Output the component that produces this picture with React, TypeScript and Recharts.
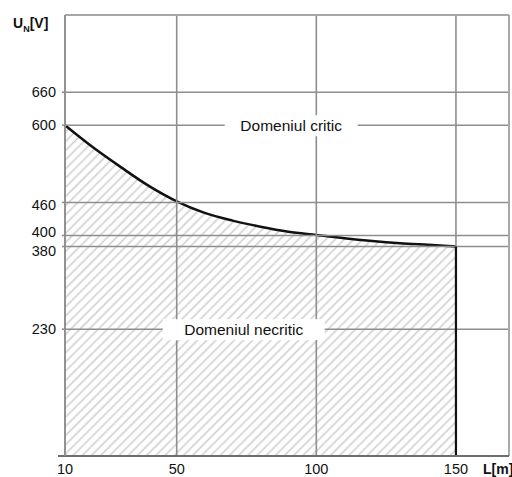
import React from 'react';
import {
  ComposedChart,
  Area,
  XAxis,
  YAxis,
  ReferenceLine,
  ReferenceDot,
} from 'recharts';

// Cable length L [m] and limit voltage U_N [V]
const lengths = [10, 20, 30, 40, 50, 60, 70, 80, 90, 100, 110, 120, 130, 140, 150];
const voltages = [600, 560, 524, 490, 462, 441, 427, 416, 407, 401, 395, 390, 386, 383, 380];
const xTicks = [10, 50, 100, 150];
const yTicks = [230, 380, 400, 460, 600, 660];
const cutoffSegment = [
  { x: 150, y: 380 },
  { x: 150, y: 0 },
];
const zoneLabels = [
  { L: 91, U: 600, text: 'Domeniul critic', w: 133 },
  { L: 74, U: 230, text: 'Domeniul necritic', w: 162 },
];

const data = lengths.map((L, i) => ({ L, U: voltages[i] }));

const FONT = '"Liberation Sans", Arial, sans-serif';
const GRID = '#8e8e8e';

// small vertical nudges so that close tick labels do not collide
const tickNudge: Record<number, number> = { 400: -3.5, 380: 4, 460: 2 };

const YTick = (props: any) => {
  const { x, y, payload } = props;
  const v = payload.value as number;
  return (
    <text
      x={x}
      y={y + (tickNudge[v] || 0)}
      dy="0.355em"
      textAnchor="end"
      fontFamily={FONT}
      fontSize={14.5}
      fill="#111"
    >
      {v}
    </text>
  );
};

const YTitle = () => (
  <text x={13} y={28} fontFamily={FONT} fontWeight="bold" fontSize={14} fill="#111">
    <tspan>U</tspan>
    <tspan fontSize={9} dy={4}>N</tspan>
    <tspan fontSize={14} dy={-4}>[V]</tspan>
  </text>
);

const XTitle = () => (
  <text x={483} y={474} fontFamily={FONT} fontWeight="bold" fontSize={14} fill="#111">
    L[m]
  </text>
);

const makeBox = (text: string, w: number) => (props: any) => {
  const { cx, cy } = props;
  return (
    <g>
      <rect x={cx - w / 2} y={cy - 10} width={w} height={21} fill="#fff" />
      <text
        x={cx}
        y={cy + 5.5}
        textAnchor="middle"
        fontFamily={FONT}
        fontSize={15.5}
        fill="#111"
      >
        {text}
      </text>
    </g>
  );
};

export default function App() {
  return (
    <div style={{ position: 'absolute', left: 0, top: 0, background: '#fff' }}>
      <ComposedChart
        width={512}
        height={477}
        data={data}
        margin={{ top: 15, right: 3, bottom: 0, left: 0 }}
      >
        <defs>
          <pattern
            id="hatch"
            patternUnits="userSpaceOnUse"
            width={6.5}
            height={6.5}
            patternTransform="rotate(45)"
          >
            <line x1={3.25} y1={0} x2={3.25} y2={6.5} stroke="#cfcfcf" strokeWidth={1.6} />
          </pattern>
        </defs>
        <XAxis
          dataKey="L"
          type="number"
          domain={[10, 169]}
          ticks={xTicks}
          interval={0}
          height={21}
          axisLine={false}
          tickLine={false}
          tickSize={3}
          tickMargin={5}
          tick={{ fill: '#111', fontSize: 14.5, fontFamily: FONT }}
          label={{ content: XTitle }}
        />
        <YAxis
          type="number"
          domain={[0, 800]}
          ticks={yTicks}
          interval={0}
          width={65}
          axisLine={{ stroke: GRID, strokeWidth: 1.6 }}
          tickLine={{ stroke: GRID, strokeWidth: 1.6 }}
          tickSize={3}
          tickMargin={6}
          tick={<YTick />}
          label={{ content: YTitle }}
        />
        <Area
          type="monotone"
          dataKey="U"
          stroke="#111"
          strokeWidth={2.5}
          fill="url(#hatch)"
          fillOpacity={1}
          dot={false}
          activeDot={false}
          isAnimationActive={false}
        />
        {yTicks.map((v) => (
          <ReferenceLine key={'y' + v} y={v} stroke={GRID} strokeWidth={1.6} />
        ))}
        {xTicks.map((v) => (
          <ReferenceLine key={'x' + v} x={v} stroke={GRID} strokeWidth={1.6} />
        ))}
        <ReferenceLine y={800} stroke="#a8a8a8" strokeWidth={2} />
        <ReferenceLine x={169} stroke="#a8a8a8" strokeWidth={2} />
        <ReferenceLine
          segment={cutoffSegment}
          stroke="#111"
          strokeWidth={2.2}
          ifOverflow="visible"
        />
        <ReferenceLine
          segment={[
            { x: 7.5, y: 0 },
            { x: 169, y: 0 },
          ]}
          stroke="#6e6e6e"
          strokeWidth={2}
          ifOverflow="visible"
        />
        {zoneLabels.map((z) => (
          <ReferenceDot
            key={z.text}
            x={z.L}
            y={z.U}
            r={1}
            ifOverflow="visible"
            shape={makeBox(z.text, z.w)}
          />
        ))}
      </ComposedChart>
    </div>
  );
}
